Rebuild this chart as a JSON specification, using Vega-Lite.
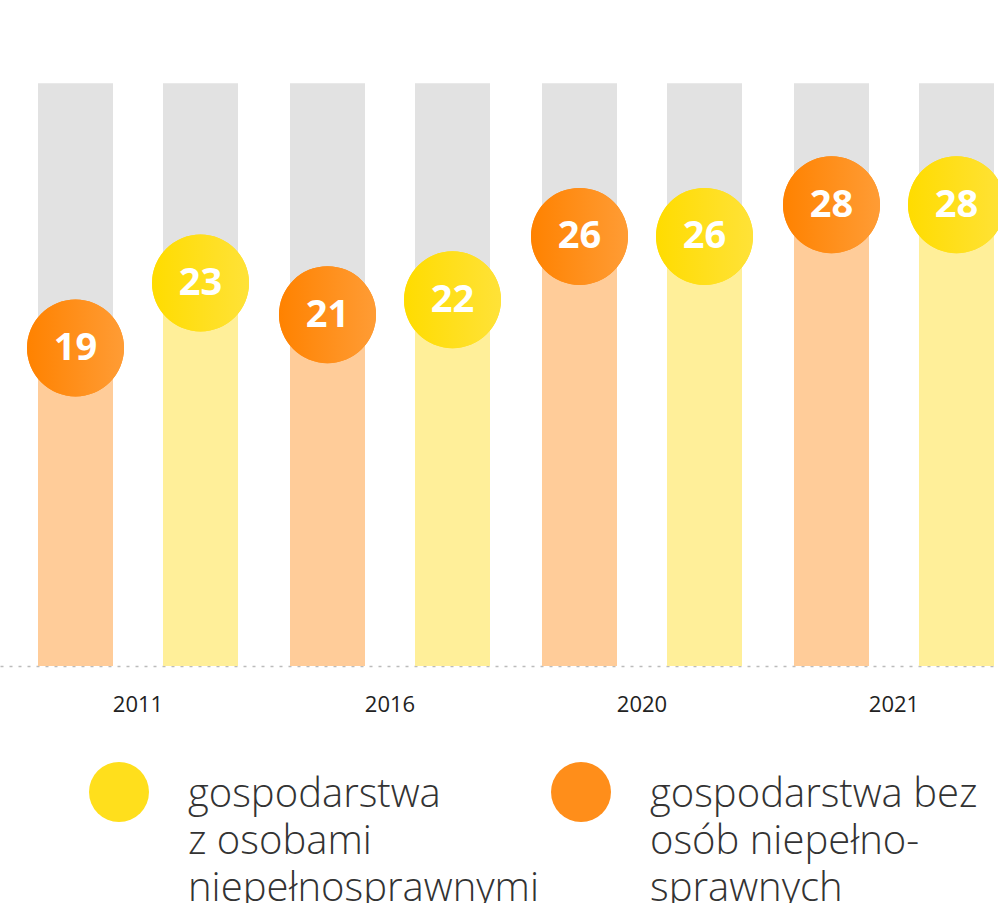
{
  "$schema": "https://vega.github.io/schema/vega-lite/v6.json",
  "autosize": "none",
  "width": 998,
  "height": 666,
  "padding": {"left": 0, "top": 0, "right": 0, "bottom": 237},
  "background": "white",
  "config": {"view": {"stroke": null}},
  "data": {
    "values": [
      {"year": "2011", "series": "gospodarstwa bez osób niepełnosprawnych", "value": 19.1},
      {"year": "2011", "series": "gospodarstwa z osobami niepełnosprawnymi", "value": 23.0},
      {"year": "2016", "series": "gospodarstwa bez osób niepełnosprawnych", "value": 21.1},
      {"year": "2016", "series": "gospodarstwa z osobami niepełnosprawnymi", "value": 22.0},
      {"year": "2020", "series": "gospodarstwa bez osób niepełnosprawnych", "value": 25.8},
      {"year": "2020", "series": "gospodarstwa z osobami niepełnosprawnymi", "value": 25.8},
      {"year": "2021", "series": "gospodarstwa bez osób niepełnosprawnych", "value": 27.7},
      {"year": "2021", "series": "gospodarstwa z osobami niepełnosprawnymi", "value": 27.7}
    ]
  },
  "encoding": {
    "x": {
      "field": "year",
      "type": "nominal",
      "sort": null,
      "scale": {"range": [0, 1032], "paddingInner": 0.2063, "paddingOuter": 0.1508},
      "axis": {
        "title": null,
        "ticks": false,
        "labelAngle": 0,
        "labelFont": "Open Sans",
        "labelFontSize": 22,
        "labelColor": "#222222",
        "labelPadding": 28,
        "domainColor": "#BBBBBB",
        "domainDash": [3, 6],
        "domainWidth": 1.5
      }
    },
    "xOffset": {
      "field": "series",
      "type": "nominal",
      "scale": {
        "domain": ["gospodarstwa bez osób niepełnosprawnych", "gospodarstwa z osobami niepełnosprawnymi"],
        "paddingInner": 0.4,
        "paddingOuter": 0
      }
    },
    "y": {"field": "value", "type": "quantitative", "scale": {"domain": [0, 40]}, "axis": null}
  },
  "layer": [
    {
      "mark": {"type": "bar", "color": "#E2E2E2"},
      "encoding": {
        "y": {"datum": 35, "type": "quantitative"},
        "y2": {"datum": 0}
      }
    },
    {
      "transform": [{"filter": "datum.series == 'gospodarstwa bez osób niepełnosprawnych'"}],
      "mark": {"type": "bar", "color": "#FFCC99"}
    },
    {
      "transform": [{"filter": "datum.series == 'gospodarstwa z osobami niepełnosprawnymi'"}],
      "mark": {"type": "bar", "color": "#FFEF99"}
    },
    {
      "mark": {"type": "point", "filled": true, "size": 9409, "opacity": 1, "strokeWidth": 0},
      "encoding": {
        "color": {
          "field": "series",
          "type": "nominal",
          "scale": {
            "domain": ["gospodarstwa z osobami niepełnosprawnymi", "gospodarstwa bez osób niepełnosprawnych"],
            "range": ["#FFDF1C", "#FF8E1A"]
          },
          "legend": {
            "title": null,
            "orient": "none",
            "legendX": 89,
            "legendY": 762,
            "direction": "horizontal",
            "symbolType": "circle",
            "symbolSize": 3600,
            "symbolStrokeWidth": 0,
            "symbolOpacity": 1,
            "labelFont": "Open Sans",
            "labelFontWeight": 300,
            "labelFontSize": 40,
            "labelColor": "#333333",
            "labelLimit": 800,
            "labelOffset": 39,
            "columnPadding": 12,
            "labelExpr": "datum.label == 'gospodarstwa z osobami niepełnosprawnymi' ? ['gospodarstwa', 'z osobami', 'niepełnosprawnymi'] : ['gospodarstwa bez', 'osób niepełno-', 'sprawnych']",
            "encode": {
              "labels": {
                "update": {"lineHeight": {"value": 47}, "dy": {"value": 3}}
              }
            }
          }
        }
      }
    },
    {
      "transform": [{"filter": "datum.series == 'gospodarstwa bez osób niepełnosprawnych'"}],
      "mark": {
        "type": "point",
        "filled": true,
        "size": 9409,
        "opacity": 1,
        "strokeWidth": 0,
        "fill": {
          "gradient": "linear", "x1": 0, "y1": 0, "x2": 1, "y2": 0,
          "stops": [{"offset": 0, "color": "#FF8200"}, {"offset": 1, "color": "#FF9C35"}]
        }
      }
    },
    {
      "transform": [{"filter": "datum.series == 'gospodarstwa z osobami niepełnosprawnymi'"}],
      "mark": {
        "type": "point",
        "filled": true,
        "size": 9409,
        "opacity": 1,
        "strokeWidth": 0,
        "fill": {
          "gradient": "linear", "x1": 0, "y1": 0, "x2": 1, "y2": 0,
          "stops": [{"offset": 0, "color": "#FFDC00"}, {"offset": 1, "color": "#FFE238"}]
        }
      }
    },
    {
      "mark": {
        "type": "text",
        "color": "white",
        "font": "Open Sans",
        "fontWeight": "bold",
        "fontSize": 38,
        "baseline": "middle",
        "align": "center",
        "dy": 1
      },
      "encoding": {
        "text": {"field": "value", "type": "quantitative", "format": ".0f"}
      }
    }
  ]
}
